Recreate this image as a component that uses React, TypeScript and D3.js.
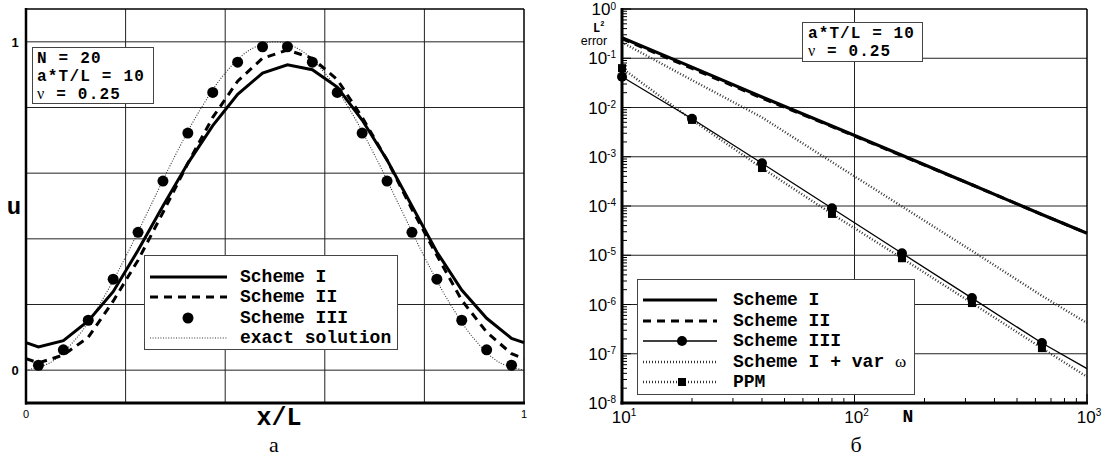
import * as d3 from "d3";

// ---- panel a: profiles u(x/L) ----
const cellX = [0.025, 0.075, 0.125, 0.175, 0.225, 0.275, 0.325, 0.375, 0.425, 0.475, 0.525, 0.575, 0.625, 0.675, 0.725, 0.775, 0.825, 0.875, 0.925, 0.975];
const profileX = [0, ...cellX, 1];
const schemeIU = [0.084, 0.071, 0.09, 0.15, 0.239, 0.365, 0.5, 0.63, 0.745, 0.84, 0.905, 0.93, 0.915, 0.862, 0.762, 0.64, 0.5, 0.36, 0.244, 0.158, 0.097, 0.084];
const schemeIIU = [0.035, 0.022, 0.046, 0.1, 0.21, 0.335, 0.48, 0.63, 0.77, 0.88, 0.95, 0.975, 0.95, 0.885, 0.77, 0.64, 0.49, 0.35, 0.213, 0.116, 0.05, 0.035];
const schemeIIIU = [0.015, 0.062, 0.152, 0.277, 0.42, 0.576, 0.722, 0.846, 0.938, 0.985, 0.985, 0.938, 0.846, 0.722, 0.576, 0.42, 0.277, 0.152, 0.062, 0.015];
const exactX = [0, 0.05, 0.1, 0.15, 0.2, 0.25, 0.3, 0.35, 0.4, 0.45, 0.5, 0.55, 0.6, 0.65, 0.7, 0.75, 0.8, 0.85, 0.9, 0.95, 1];
const exactU = [0, 0.024, 0.095, 0.206, 0.345, 0.5, 0.655, 0.794, 0.905, 0.976, 1, 0.976, 0.905, 0.794, 0.655, 0.5, 0.345, 0.206, 0.095, 0.024, 0];
const leftGridY = [0, 0.2, 0.4, 0.6, 0.8, 1];
const leftGridX = [0.2, 0.4, 0.6, 0.8];
const leftTickLabels = [0, 1];

// ---- panel б: L2 error vs N ----
const nValues = [10, 20, 40, 80, 160, 320, 640, 1000];
const markerN = [10, 20, 40, 80, 160, 320, 640];
const errSchemeI = [0.26, 0.066, 0.0163, 4.2e-3, 1.07e-3, 2.7e-4, 6.7e-5, 2.8e-5];
const errSchemeII = [0.25, 0.062, 0.0155, 4.1e-3, 1.05e-3, 2.7e-4, 6.7e-5, 2.8e-5];
const errSchemeIII = [0.042, 5.9e-3, 7.4e-4, 9e-5, 1.1e-5, 1.35e-6, 1.65e-7, 5e-8];
const errVarOmega = [0.21, 0.036, 6.3e-3, 7.8e-4, 9.8e-5, 1.23e-5, 1.5e-6, 4.2e-7];
const errPPM = [0.063, 5.6e-3, 5.9e-4, 6.9e-5, 8.7e-6, 1.07e-6, 1.3e-7, 3.4e-8];
const yExponents = [0, -1, -2, -3, -4, -5, -6, -7, -8];
const xExponents = [1, 2, 3];

const MONO = "'Liberation Mono', 'Courier New', monospace";
const SANS = "'Liberation Sans', Arial, sans-serif";
const SERIF = "'Liberation Serif', 'Times New Roman', serif";

export default function App() {
  const xL = d3.scaleLinear().domain([0, 1]).range([26, 524]);
  const yL = d3.scaleLinear().domain([-0.1, 1.1]).range([403, 9]);
  const xR = d3.scaleLog().domain([10, 1000]).range([622, 1087]);
  const yR = d3.scaleLog().domain([1e-8, 1]).range([403, 9]);

  const profile = (xs: number[], ys: number[], curve = d3.curveLinear) =>
    d3.line<number>().x((_, i) => xL(xs[i])).y((d) => yL(d)).curve(curve)(ys) || "";
  const errLine = (ys: number[]) =>
    d3.line<number>().x((_, i) => xR(nValues[i])).y((d) => yR(d))(ys) || "";

  const yMinor = yR.ticks();
  const xMinor = xR.ticks();
  const isDecade = (v: number) => Math.abs(Math.log10(v) - Math.round(Math.log10(v))) < 1e-9;

  const dotted = { stroke: "#333", strokeWidth: 1.1, strokeDasharray: "1,1.6", fill: "none" };
  const dottedR = { stroke: "#333", strokeWidth: 2.4, strokeDasharray: "1,2", fill: "none" };

  return (
    <svg width={1109} height={458} style={{ position: "absolute", left: 0, top: 0, background: "#fff" }}>
      {/* ===== panel a ===== */}
      <g>
        {leftGridY.map((v) => (
          <line key={"gy" + v} x1={xL(0)} x2={xL(1)} y1={yL(v)} y2={yL(v)} stroke="#222" strokeWidth={1} />
        ))}
        {leftGridX.map((v) => (
          <line key={"gx" + v} x1={xL(v)} x2={xL(v)} y1={9} y2={403} stroke="#222" strokeWidth={1} />
        ))}
        <path d={profile(exactX, exactU, d3.curveCatmullRom)} {...dotted} />
        <path d={profile(profileX, schemeIIU)} fill="none" stroke="#000" strokeWidth={3} strokeDasharray="8,6" />
        <path d={profile(profileX, schemeIU)} fill="none" stroke="#000" strokeWidth={3} />
        {schemeIIIU.map((u, i) => (
          <circle key={"c" + i} cx={xL(cellX[i])} cy={yL(u)} r={5.5} fill="#000" />
        ))}
        {/* frame */}
        <line x1={26} x2={524} y1={9} y2={9} stroke="#000" strokeWidth={1.5} />
        <line x1={524} x2={524} y1={9} y2={403} stroke="#000" strokeWidth={1.5} />
        <line x1={26} x2={26} y1={8} y2={404.5} stroke="#000" strokeWidth={2.5} />
        <line x1={25} x2={525} y1={403} y2={403} stroke="#000" strokeWidth={3} />
        {leftTickLabels.map((v) => (
          <text key={"ly" + v} x={15} y={yL(v) + 5} fontFamily={SANS} fontWeight="bold" fontSize={13} textAnchor="middle">
            {v}
          </text>
        ))}
        {leftTickLabels.map((v) => (
          <text key={"lx" + v} x={xL(v)} y={418} fontFamily={SANS} fontSize={11} textAnchor="middle">
            {v}
          </text>
        ))}
        <text x={14} y={214} fontFamily={MONO} fontWeight="bold" fontSize={24} textAnchor="middle">u</text>
        <text x={279} y={425} fontFamily={MONO} fontWeight="bold" fontSize={25} textAnchor="middle">x/L</text>
        <text x={274} y={452} fontFamily={SERIF} fontSize={22} textAnchor="middle">а</text>

        {/* info box */}
        <rect x={32.5} y={47.5} width={121} height={56} fill="#fff" stroke="#444" strokeWidth={1} />
        <g fontFamily={MONO} fontWeight="bold" fontSize={16} letterSpacing={1.2}>
          <text x={37} y={63}>N = 20</text>
          <text x={37} y={81}>a*T/L = 10</text>
          <text x={37} y={99}>
            <tspan fontFamily={SERIF} fontWeight="normal" fontSize={16}>ν</tspan> = 0.25
          </text>
        </g>

        {/* legend */}
        <rect x={144.5} y={255.5} width={253} height={94} fill="#fff" stroke="#444" strokeWidth={1} />
        <line x1={150} x2={227} y1={277} y2={277} stroke="#000" strokeWidth={3} />
        <line x1={150} x2={227} y1={297} y2={297} stroke="#000" strokeWidth={3} strokeDasharray="8,6" />
        <circle cx={188} cy={318} r={5.5} fill="#000" />
        <line x1={150} x2={227} y1={338} y2={338} {...dotted} />
        <g fontFamily={MONO} fontWeight="bold" fontSize={18}>
          <text x={240} y={282}>Scheme I</text>
          <text x={240} y={302}>Scheme II</text>
          <text x={240} y={323}>Scheme III</text>
          <text x={240} y={343}>exact solution</text>
        </g>
      </g>

      {/* ===== panel б ===== */}
      <g>
        {yExponents.slice(1, -1).map((e) => (
          <line key={"rg" + e} x1={622} x2={1087} y1={yR(Math.pow(10, e))} y2={yR(Math.pow(10, e))} stroke="#222" strokeWidth={1} />
        ))}
        <line x1={xR(100)} x2={xR(100)} y1={9} y2={403} stroke="#222" strokeWidth={1} />
        {yMinor.map((v, i) => (
          <line key={"ym" + i} x1={622} x2={622 + (isDecade(v) ? 9 : 5)} y1={yR(v)} y2={yR(v)} stroke="#000" strokeWidth={1} />
        ))}
        {xMinor.map((v, i) => (
          <line key={"xm" + i} x1={xR(v)} x2={xR(v)} y1={403} y2={403 - (isDecade(v) ? 9 : 5)} stroke="#000" strokeWidth={1} />
        ))}

        <path d={errLine(errVarOmega)} {...dottedR} />
        <path d={errLine(errPPM)} {...dottedR} />
        <path d={errLine(errSchemeIII)} fill="none" stroke="#000" strokeWidth={1.3} />
        <path d={errLine(errSchemeII)} fill="none" stroke="#000" strokeWidth={3} strokeDasharray="8,6" />
        <path d={errLine(errSchemeI)} fill="none" stroke="#000" strokeWidth={3.2} />
        {markerN.map((n, i) => (
          <rect key={"sq" + n} x={xR(n) - 4} y={yR(errPPM[i]) - 4} width={8} height={8} fill="#000" />
        ))}
        {markerN.map((n, i) => (
          <circle key={"ci" + n} cx={xR(n)} cy={yR(errSchemeIII[i])} r={5} fill="#000" />
        ))}

        {/* frame */}
        <line x1={622} x2={1087} y1={9} y2={9} stroke="#000" strokeWidth={1.5} />
        <line x1={1087} x2={1087} y1={9} y2={403} stroke="#000" strokeWidth={1.5} />
        <line x1={622} x2={622} y1={8} y2={404.5} stroke="#000" strokeWidth={3} />
        <line x1={620.5} x2={1088} y1={403} y2={403} stroke="#000" strokeWidth={3} />

        {yExponents.map((e) => (
          <text key={"yl" + e} x={616} y={yR(Math.pow(10, e)) + 6} fontFamily={SANS} fontSize={17} textAnchor="end">
            10<tspan fontSize={10} dy={e === 0 ? -5 : -6}>{e === 0 ? "0" : "-" + Math.abs(e)}</tspan>
          </text>
        ))}
        {xExponents.map((e) => (
          <text key={"xl" + e} x={xR(Math.pow(10, e)) + 2} y={423} fontFamily={SANS} fontSize={17} textAnchor="middle">
            10<tspan fontSize={10} dy={-7}>{e}</tspan>
          </text>
        ))}
        <text x={908} y={422} fontFamily={MONO} fontWeight="bold" fontSize={18} textAnchor="middle">N</text>
        <text x={593} y={32} fontFamily={MONO} fontWeight="bold" fontSize={12}>
          L<tspan fontSize={7} dy={-6}>2</tspan>
        </text>
        <text x={594} y={45} fontFamily={SANS} fontSize={12.5} textAnchor="middle">error</text>
        <text x={856} y={452} fontFamily={SERIF} fontSize={22} textAnchor="middle">б</text>

        {/* info box */}
        <rect x={802.5} y={22.5} width={120} height={39} fill="#fff" stroke="#444" strokeWidth={1} />
        <g fontFamily={MONO} fontWeight="bold" fontSize={16} letterSpacing={1.1}>
          <text x={808} y={38}>a*T/L = 10</text>
          <text x={808} y={56}>
            <tspan fontFamily={SERIF} fontWeight="normal" fontSize={16}>ν</tspan> = 0.25
          </text>
        </g>

        {/* legend */}
        <rect x={637.5} y={279.5} width={277} height={115} fill="#fff" stroke="#444" strokeWidth={1} />
        <line x1={643} x2={717} y1={300} y2={300} stroke="#000" strokeWidth={3.2} />
        <line x1={643} x2={717} y1={321} y2={321} stroke="#000" strokeWidth={3} strokeDasharray="8,6" />
        <line x1={643} x2={717} y1={341} y2={341} stroke="#000" strokeWidth={1.3} />
        <circle cx={682} cy={341} r={5} fill="#000" />
        <line x1={643} x2={717} y1={362} y2={362} {...dottedR} />
        <line x1={643} x2={717} y1={382} y2={382} {...dottedR} />
        <rect x={678} y={378} width={8} height={8} fill="#000" />
        <g fontFamily={MONO} fontWeight="bold" fontSize={18}>
          <text x={733} y={305}>Scheme I</text>
          <text x={733} y={326}>Scheme II</text>
          <text x={733} y={346}>Scheme III</text>
          <text x={733} y={367}>
            Scheme I + var <tspan fontFamily={SERIF} fontWeight="normal" fontSize={17}>ω</tspan>
          </text>
          <text x={733} y={387}>PPM</text>
        </g>
      </g>
    </svg>
  );
}
